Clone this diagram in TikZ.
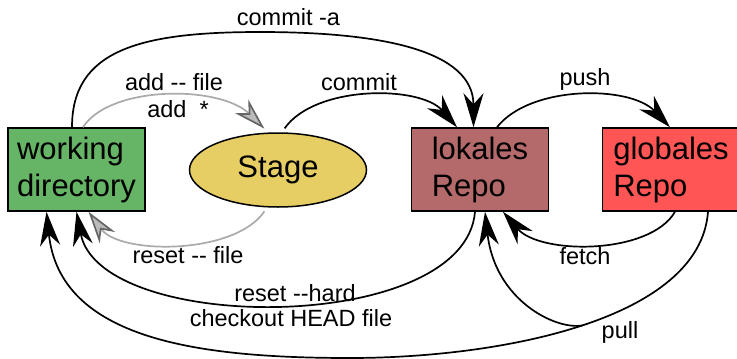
\documentclass[tikz,border=0pt]{standalone}
\usepackage{fontspec}
\setmainfont{Liberation Sans}
\usepackage{tikz}
\usetikzlibrary{shapes.geometric,arrows.meta}
\definecolor{gitwork}{RGB}{102,180,102}
\definecolor{gitstage}{RGB}{230,205,100}
\definecolor{gitlocal}{RGB}{180,106,106}
\definecolor{gitglobal}{RGB}{255,85,85}
\definecolor{gitgray}{RGB}{170,170,170}

\begin{document}
\begin{tikzpicture}[x=1pt,y=1pt,
  box/.style={draw,line width=1.5pt,minimum width=137pt,minimum height=83pt,align=left,font=\fontsize{31}{37}\selectfont},
  lbl/.style={inner sep=0pt,anchor=base,font=\fontsize{23.5}{28}\selectfont},
  go/.style={line width=1.7pt,-{Stealth[length=34pt,width=20pt,inset=11pt]}},
  soft/.style={line width=1.7pt,gitgray,-{Stealth[length=32pt,width=19pt,inset=10pt,fill=gitgray!80,color=gitgray!60!black]}}]
\useasboundingbox (0,0) rectangle (737,-359);

\node [box,fill=gitwork] (wd) at (76.5,-169.5) {working\\directory};
\node [draw,line width=1.5pt,fill=gitstage,ellipse,minimum width=177pt,minimum height=74pt,inner sep=0pt,font=\fontsize{31}{37}\selectfont] (stage) at (278,-170) {Stage};
\node [box,fill=gitlocal] (local) at (480,-169.5) {lokales\\Repo};
\node [box,fill=gitglobal] (global) at (671,-169.5) {globales\\Repo};

% oben
\draw [go] ([xshift=-4.5pt]wd.north) .. controls (72,-50) and (140,-32) .. (260,-32)
  .. controls (380,-32) and (473.5,-50) .. ([xshift=-6.5pt]local.north);
\draw [soft] ([xshift=6.5pt]wd.north) .. controls (110,-85) and (220,-85) .. ([yshift=4pt]stage.110);
\draw [go] ([yshift=4pt]stage.80) .. controls (315,-85) and (420,-85) .. ([xshift=-23pt]local.north);
\draw [go] ([xshift=17pt]local.north) .. controls (530,-85) and (630,-85) .. ([xshift=-1pt]global.north);

% unten
\draw [go] ([xshift=4pt]global.south) .. controls (650,-255) and (540,-255) .. ([xshift=23pt]local.south);
\draw [soft] ([yshift=-4pt]stage.-110) .. controls (235,-255) and (120,-255) .. ([xshift=12pt]wd.south);
\draw [go] ([xshift=-5pt]local.south) .. controls (465,-335) and (100,-335) .. (wd.south);
\draw [go] ([xshift=37pt]global.south) .. controls (700,-320) and (500,-358) .. coordinate[pos=0.5] (pullm) (350,-358)
  .. controls (200,-358) and (60,-340) .. ([xshift=-30pt]wd.south);
\draw [go] (pullm) .. controls (555,-330) and (495,-300) .. ([xshift=5pt]local.south);

\node [lbl] (lcommita) at (288.5,-25) {commit -a};
\node [lbl] (ladd) at (174,-90) {add -{}- file};
\node [lbl] (laddall) at (178,-117) {add\ \ *};
\node [lbl] (lcommit) at (359,-90) {commit};
\node [lbl] (lpush) at (585,-85) {push};
\node [lbl] (lfetch) at (585,-264) {fetch};
\node [lbl] (lresetfile) at (188,-263) {reset -{}- file};
\node [lbl] (lhard) at (295,-301) {reset -{}-hard};
\node [lbl] (lcheckout) at (291,-326) {checkout HEAD file};
\node [lbl] (lpull) at (620,-338) {pull};
\end{tikzpicture}
\end{document}
